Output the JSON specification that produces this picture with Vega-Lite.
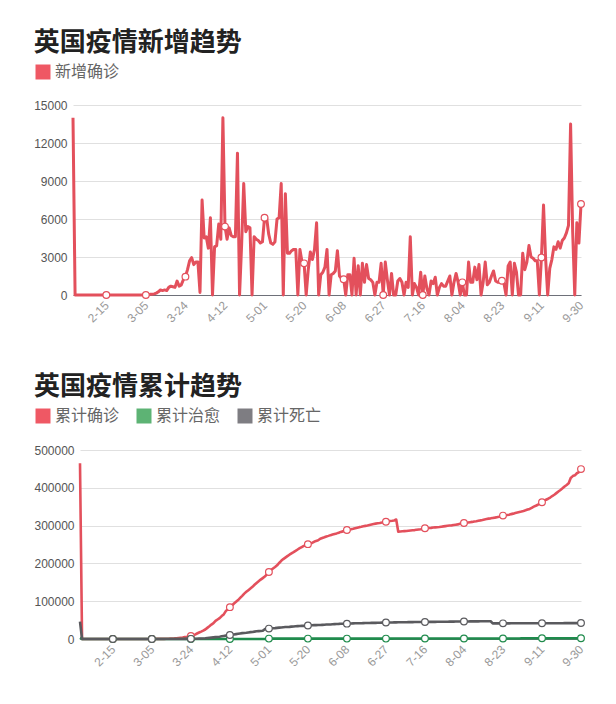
{
"$schema": "https://vega.github.io/schema/vega-lite/v6.json",
"background": "white",
"padding": {"left": 33, "top": 30, "right": 20, "bottom": 10},
"config": {
  "view": {"stroke": null},
  "font": "Noto Sans CJK SC",
  "title": {"fontSize": 26, "fontWeight": "bold", "color": "#222222", "anchor": "start", "frame": "bounds", "offset": 8, "font": "Noto Sans CJK SC"},
  "axisY": {"labelFont": "Liberation Sans", "labelFontSize": 12, "labelColor": "#555555", "grid": true, "gridColor": "#e0e0e0", "domain": false, "ticks": false, "labelPadding": 6, "labelOverlap": false, "labelBound": false, "labelFlush": false, "format": "d", "title": null, "tickCount": 20},
  "axisX": {"labelFont": "Liberation Sans", "labelFontSize": 12, "labelColor": "#999999", "grid": false, "domain": true, "domainColor": "#6e7079", "ticks": false, "labelAngle": -45, "labelAlign": "right", "labelBaseline": "middle", "labelPadding": 8, "labelFlush": false, "labelOverlap": false, "format": "%-m-%d", "title": null, "tickCount": 30},
  "legend": {"orient": "none", "direction": "horizontal", "title": null, "symbolType": "square", "symbolSize": 225, "symbolStrokeWidth": 0, "labelFontSize": 16, "labelColor": "#666666", "labelFont": "Noto Sans CJK SC", "labelOffset": 4, "columnPadding": 16, "padding": 0}
},
"datasets": {"uk": [
{"date":"2020-01-30","新增确诊":14000,"累计确诊":465000,"累计治愈":3000,"累计死亡":45800},
{"date":"2020-01-31","新增确诊":0,"累计确诊":2,"累计治愈":0,"累计死亡":0},
{"date":"2020-02-01","新增确诊":0,"累计确诊":2,"累计治愈":0,"累计死亡":0},
{"date":"2020-02-02","新增确诊":0,"累计确诊":2,"累计治愈":0,"累计死亡":0},
{"date":"2020-02-03","新增确诊":0,"累计确诊":2,"累计治愈":0,"累计死亡":0},
{"date":"2020-02-04","新增确诊":0,"累计确诊":2,"累计治愈":0,"累计死亡":0},
{"date":"2020-02-05","新增确诊":0,"累计确诊":2,"累计治愈":0,"累计死亡":0},
{"date":"2020-02-06","新增确诊":0,"累计确诊":3,"累计治愈":0,"累计死亡":0},
{"date":"2020-02-07","新增确诊":0,"累计确诊":3,"累计治愈":0,"累计死亡":0},
{"date":"2020-02-08","新增确诊":0,"累计确诊":3,"累计治愈":0,"累计死亡":0},
{"date":"2020-02-09","新增确诊":0,"累计确诊":3,"累计治愈":0,"累计死亡":0},
{"date":"2020-02-10","新增确诊":0,"累计确诊":8,"累计治愈":0,"累计死亡":0},
{"date":"2020-02-11","新增确诊":0,"累计确诊":8,"累计治愈":8,"累计死亡":0},
{"date":"2020-02-12","新增确诊":0,"累计确诊":9,"累计治愈":8,"累计死亡":0},
{"date":"2020-02-13","新增确诊":0,"累计确诊":9,"累计治愈":8,"累计死亡":0},
{"date":"2020-02-14","新增确诊":0,"累计确诊":9,"累计治愈":8,"累计死亡":0},
{"date":"2020-02-15","新增确诊":0,"累计确诊":9,"累计治愈":8,"累计死亡":0},
{"date":"2020-02-16","新增确诊":0,"累计确诊":9,"累计治愈":8,"累计死亡":0},
{"date":"2020-02-17","新增确诊":0,"累计确诊":9,"累计治愈":8,"累计死亡":0},
{"date":"2020-02-18","新增确诊":0,"累计确诊":9,"累计治愈":8,"累计死亡":0},
{"date":"2020-02-19","新增确诊":0,"累计确诊":9,"累计治愈":8,"累计死亡":0},
{"date":"2020-02-20","新增确诊":0,"累计确诊":9,"累计治愈":8,"累计死亡":0},
{"date":"2020-02-21","新增确诊":0,"累计确诊":9,"累计治愈":8,"累计死亡":0},
{"date":"2020-02-22","新增确诊":0,"累计确诊":9,"累计治愈":8,"累计死亡":0},
{"date":"2020-02-23","新增确诊":0,"累计确诊":9,"累计治愈":8,"累计死亡":0},
{"date":"2020-02-24","新增确诊":0,"累计确诊":13,"累计治愈":8,"累计死亡":0},
{"date":"2020-02-25","新增确诊":0,"累计确诊":13,"累计治愈":8,"累计死亡":0},
{"date":"2020-02-26","新增确诊":0,"累计确诊":13,"累计治愈":8,"累计死亡":0},
{"date":"2020-02-27","新增确诊":0,"累计确诊":15,"累计治愈":8,"累计死亡":0},
{"date":"2020-02-28","新增确诊":0,"累计确诊":20,"累计治愈":8,"累计死亡":0},
{"date":"2020-02-29","新增确诊":0,"累计确诊":23,"累计治愈":8,"累计死亡":0},
{"date":"2020-03-01","新增确诊":0,"累计确诊":36,"累计治愈":8,"累计死亡":0},
{"date":"2020-03-02","新增确诊":0,"累计确诊":40,"累计治愈":8,"累计死亡":0},
{"date":"2020-03-03","新增确诊":0,"累计确诊":51,"累计治愈":8,"累计死亡":0},
{"date":"2020-03-04","新增确诊":0,"累计确诊":85,"累计治愈":8,"累计死亡":0},
{"date":"2020-03-05","新增确诊":0,"累计确诊":115,"累计治愈":8,"累计死亡":1},
{"date":"2020-03-06","新增确诊":30,"累计确诊":164,"累计治愈":8,"累计死亡":2},
{"date":"2020-03-07","新增确诊":50,"累计确诊":209,"累计治愈":8,"累计死亡":2},
{"date":"2020-03-08","新增确诊":60,"累计确诊":278,"累计治愈":8,"累计死亡":3},
{"date":"2020-03-09","新增确诊":90,"累计确诊":321,"累计治愈":8,"累计死亡":4},
{"date":"2020-03-10","新增确诊":150,"累计确诊":383,"累计治愈":8,"累计死亡":6},
{"date":"2020-03-11","新增确诊":250,"累计确诊":460,"累计治愈":8,"累计死亡":8},
{"date":"2020-03-12","新增确诊":400,"累计确诊":594,"累计治愈":8,"累计死亡":8},
{"date":"2020-03-13","新增确诊":350,"累计确诊":798,"累计治愈":8,"累计死亡":10},
{"date":"2020-03-14","新增确诊":400,"累计确诊":1140,"累计治愈":8,"累计死亡":21},
{"date":"2020-03-15","新增确诊":350,"累计确诊":1372,"累计治愈":18,"累计死亡":35},
{"date":"2020-03-16","新增确诊":600,"累计确诊":1543,"累计治愈":18,"累计死亡":55},
{"date":"2020-03-17","新增确诊":700,"累计确诊":1950,"累计治愈":18,"累计死亡":71},
{"date":"2020-03-18","新增确诊":650,"累计确诊":2626,"累计治愈":18,"累计死亡":104},
{"date":"2020-03-19","新增确诊":600,"累计确诊":3269,"累计治愈":18,"累计死亡":144},
{"date":"2020-03-20","新增确诊":1100,"累计确诊":3983,"累计治愈":18,"累计死亡":177},
{"date":"2020-03-21","新增确诊":700,"累计确诊":5018,"累计治愈":18,"累计死亡":233},
{"date":"2020-03-22","新增确诊":800,"累计确诊":5683,"累计治愈":18,"累计死亡":281},
{"date":"2020-03-23","新增确诊":1200,"累计确诊":6650,"累计治愈":135,"累计死亡":335},
{"date":"2020-03-24","新增确诊":1450,"累计确诊":8077,"累计治愈":135,"累计死亡":422},
{"date":"2020-03-25","新增确诊":2000,"累计确诊":9529,"累计治愈":135,"累计死亡":465},
{"date":"2020-03-26","新增确诊":2700,"累计确诊":11658,"累计治愈":135,"累计死亡":578},
{"date":"2020-03-27","新增确诊":2950,"累计确诊":14543,"累计治愈":135,"累计死亡":759},
{"date":"2020-03-28","新增确诊":2400,"累计确诊":17089,"累计治愈":135,"累计死亡":1019},
{"date":"2020-03-29","新增确诊":2600,"累计确诊":19522,"累计治愈":135,"累计死亡":1228},
{"date":"2020-03-30","新增确诊":2600,"累计确诊":22141,"累计治愈":135,"累计死亡":1408},
{"date":"2020-03-31","新增确诊":200,"累计确诊":25150,"累计治愈":135,"累计死亡":1789},
{"date":"2020-04-01","新增确诊":7500,"累计确诊":29474,"累计治愈":135,"累计死亡":2352},
{"date":"2020-04-02","新增确诊":4500,"累计确诊":33718,"累计治愈":135,"累计死亡":2921},
{"date":"2020-04-03","新增确诊":4600,"累计确诊":38168,"累计治愈":135,"累计死亡":3605},
{"date":"2020-04-04","新增确诊":3700,"累计确诊":41903,"累计治愈":135,"累计死亡":4313},
{"date":"2020-04-05","新增确诊":6100,"累计确诊":47806,"累计治愈":135,"累计死亡":4934},
{"date":"2020-04-06","新增确诊":0,"累计确诊":51608,"累计治愈":135,"累计死亡":5373},
{"date":"2020-04-07","新增确诊":3800,"累计确诊":55242,"累计治愈":135,"累计死亡":6159},
{"date":"2020-04-08","新增确诊":3900,"累计确诊":60733,"累计治愈":135,"累计死亡":7097},
{"date":"2020-04-09","新增确诊":5600,"累计确诊":65077,"累计治愈":135,"累计死亡":7978},
{"date":"2020-04-10","新增确诊":4400,"累计确诊":73758,"累计治愈":135,"累计死亡":8958},
{"date":"2020-04-11","新增确诊":14000,"累计确诊":78991,"累计治愈":135,"累计死亡":9875},
{"date":"2020-04-12","新增确诊":5400,"累计确诊":84279,"累计治愈":135,"累计死亡":10612},
{"date":"2020-04-13","新增确诊":4400,"累计确诊":88621,"累计治愈":135,"累计死亡":11329},
{"date":"2020-04-14","新增确诊":5300,"累计确诊":93873,"累计治愈":135,"累计死亡":12107},
{"date":"2020-04-15","新增确诊":4700,"累计确诊":98476,"累计治愈":135,"累计死亡":12868},
{"date":"2020-04-16","新增确诊":4600,"累计确诊":103093,"累计治愈":135,"累计死亡":13729},
{"date":"2020-04-17","新增确诊":4600,"累计确诊":108692,"累计治愈":135,"累计死亡":14576},
{"date":"2020-04-18","新增确诊":11200,"累计确诊":114217,"累计治愈":135,"累计死亡":15464},
{"date":"2020-04-19","新增确诊":0,"累计确诊":120067,"累计治愈":135,"累计死亡":16060},
{"date":"2020-04-20","新增确诊":4000,"累计确诊":124743,"累计治愈":135,"累计死亡":16509},
{"date":"2020-04-21","新增确诊":8800,"累计确诊":129044,"累计治愈":135,"累计死亡":17337},
{"date":"2020-04-22","新增确诊":5000,"累计确诊":133495,"累计治愈":135,"累计死亡":18100},
{"date":"2020-04-23","新增确诊":5400,"累计确诊":138078,"累计治愈":135,"累计死亡":18738},
{"date":"2020-04-24","新增确诊":5300,"累计确诊":143464,"累计治愈":135,"累计死亡":19506},
{"date":"2020-04-25","新增确诊":0,"累计确诊":148377,"累计治愈":135,"累计死亡":20319},
{"date":"2020-04-26","新增确诊":4600,"累计确诊":152840,"累计治愈":135,"累计死亡":20732},
{"date":"2020-04-27","新增确诊":4400,"累计确诊":157149,"累计治愈":135,"累计死亡":21092},
{"date":"2020-04-28","新增确诊":4300,"累计确诊":161145,"累计治愈":135,"累计死亡":21678},
{"date":"2020-04-29","新增确诊":4100,"累计确诊":165221,"累计治愈":135,"累计死亡":26097},
{"date":"2020-04-30","新增确诊":4200,"累计确诊":171253,"累计治愈":135,"累计死亡":26711},
{"date":"2020-05-01","新增确诊":6100,"累计确诊":177454,"累计治愈":1000,"累计死亡":27510},
{"date":"2020-05-02","新增确诊":6100,"累计确诊":182260,"累计治愈":1000,"累计死亡":28131},
{"date":"2020-05-03","新增确诊":4800,"累计确诊":186599,"累计治愈":1000,"累计死亡":28446},
{"date":"2020-05-04","新增确诊":4100,"累计确诊":190584,"累计治愈":1000,"累计死亡":28734},
{"date":"2020-05-05","新增确诊":4000,"累计确诊":194990,"累计治愈":1000,"累计死亡":29427},
{"date":"2020-05-06","新增确诊":4200,"累计确诊":201101,"累计治愈":1000,"累计死亡":30076},
{"date":"2020-05-07","新增确诊":6000,"累计确诊":206715,"累计治愈":1000,"累计死亡":30615},
{"date":"2020-05-08","新增确诊":6100,"累计确诊":211364,"累计治愈":1000,"累计死亡":31241},
{"date":"2020-05-09","新增确诊":8800,"累计确诊":215260,"累计治愈":1000,"累计死亡":31587},
{"date":"2020-05-10","新增确诊":0,"累计确诊":219183,"累计治愈":1000,"累计死亡":31855},
{"date":"2020-05-11","新增确诊":8000,"累计确诊":223060,"累计治愈":1000,"累计死亡":32065},
{"date":"2020-05-12","新增确诊":3300,"累计确诊":226463,"累计治愈":1000,"累计死亡":32692},
{"date":"2020-05-13","新增确诊":3300,"累计确诊":229705,"累计治愈":1000,"累计死亡":33186},
{"date":"2020-05-14","新增确诊":3500,"累计确诊":233151,"累计治愈":1000,"累计死亡":33614},
{"date":"2020-05-15","新增确诊":3600,"累计确诊":236711,"累计治愈":1000,"累计死亡":33998},
{"date":"2020-05-16","新增确诊":3600,"累计确诊":240161,"累计治愈":1000,"累计死亡":34466},
{"date":"2020-05-17","新增确诊":0,"累计确诊":243303,"累计治愈":1000,"累计死亡":34636},
{"date":"2020-05-18","新增确诊":3600,"累计确诊":246406,"累计治愈":1000,"累计死亡":34796},
{"date":"2020-05-19","新增确诊":2600,"累计确诊":248293,"累计治愈":1000,"累计死亡":35341},
{"date":"2020-05-20","新增确诊":2500,"累计确诊":250908,"累计治愈":1000,"累计死亡":35704},
{"date":"2020-05-21","新增确诊":0,"累计确诊":252500,"累计治愈":1000,"累计死亡":36042},
{"date":"2020-05-22","新增确诊":2000,"累计确诊":254195,"累计治愈":1000,"累计死亡":36393},
{"date":"2020-05-23","新增确诊":3400,"累计确诊":257154,"累计治愈":1000,"累计死亡":36675},
{"date":"2020-05-24","新增确诊":2800,"累计确诊":259559,"累计治愈":1000,"累计死亡":36793},
{"date":"2020-05-25","新增确诊":3600,"累计确诊":261184,"累计治愈":1000,"累计死亡":36914},
{"date":"2020-05-26","新增确诊":5700,"累计确诊":265227,"累计治愈":1000,"累计死亡":37048},
{"date":"2020-05-27","新增确诊":0,"累计确诊":267240,"累计治愈":1000,"累计死亡":37460},
{"date":"2020-05-28","新增确诊":1600,"累计确诊":269127,"累计治愈":1000,"累计死亡":37837},
{"date":"2020-05-29","新增确诊":1800,"累计确诊":271222,"累计治愈":1000,"累计死亡":38161},
{"date":"2020-05-30","新增确诊":2200,"累计确诊":272826,"累计治愈":1000,"累计死亡":38376},
{"date":"2020-05-31","新增确诊":3600,"累计确诊":274762,"累计治愈":1000,"累计死亡":38489},
{"date":"2020-06-01","新增确诊":0,"累计确诊":276332,"累计治愈":1000,"累计死亡":39045},
{"date":"2020-06-02","新增确诊":1600,"累计确诊":277985,"累计治愈":1000,"累计死亡":39369},
{"date":"2020-06-03","新增确诊":1700,"累计确诊":279392,"累计治愈":1000,"累计死亡":39728},
{"date":"2020-06-04","新增确诊":1900,"累计确诊":281270,"累计治愈":1000,"累计死亡":39904},
{"date":"2020-06-05","新增确诊":3500,"累计确诊":283326,"累计治愈":1000,"累计死亡":40261},
{"date":"2020-06-06","新增确诊":1500,"累计确诊":284734,"累计治愈":1000,"累计死亡":40465},
{"date":"2020-06-07","新增确诊":1300,"累计确诊":286194,"累计治愈":1000,"累计死亡":40542},
{"date":"2020-06-08","新增确诊":1250,"累计确诊":288500,"累计治愈":1000,"累计死亡":40597},
{"date":"2020-06-09","新增确诊":0,"累计确诊":289140,"累计治愈":1000,"累计死亡":40883},
{"date":"2020-06-10","新增确诊":1600,"累计确诊":290143,"累计治愈":1000,"累计死亡":41128},
{"date":"2020-06-11","新增确诊":1600,"累计确诊":291409,"累计治愈":1000,"累计死亡":41279},
{"date":"2020-06-12","新增确诊":0,"累计确诊":292950,"累计治愈":1000,"累计死亡":41481},
{"date":"2020-06-13","新增确诊":2900,"累计确诊":294375,"累计治愈":1000,"累计死亡":41662},
{"date":"2020-06-14","新增确诊":0,"累计确诊":295889,"累计治愈":1000,"累计死亡":41698},
{"date":"2020-06-15","新增确诊":2300,"累计确诊":296857,"累计治愈":1000,"累计死亡":41736},
{"date":"2020-06-16","新增确诊":0,"累计确诊":298136,"累计治愈":1000,"累计死亡":41969},
{"date":"2020-06-17","新增确诊":2500,"累计确诊":299251,"累计治愈":1000,"累计死亡":42153},
{"date":"2020-06-18","新增确诊":1000,"累计确诊":300469,"累计治愈":1000,"累计死亡":42288},
{"date":"2020-06-19","新增确诊":2400,"累计确诊":301815,"累计治愈":1000,"累计死亡":42461},
{"date":"2020-06-20","新增确诊":1300,"累计确诊":303110,"累计治愈":1000,"累计死亡":42589},
{"date":"2020-06-21","新增确诊":1200,"累计确诊":304331,"累计治愈":1000,"累计死亡":42632},
{"date":"2020-06-22","新增确诊":1000,"累计确诊":305289,"累计治愈":1000,"累计死亡":42647},
{"date":"2020-06-23","新增确诊":0,"累计确诊":306210,"累计治愈":1000,"累计死亡":42927},
{"date":"2020-06-24","新增确诊":1000,"累计确诊":306862,"累计治愈":1000,"累计死亡":43081},
{"date":"2020-06-25","新增确诊":1000,"累计确诊":307980,"累计治愈":1000,"累计死亡":43230},
{"date":"2020-06-26","新增确诊":2500,"累计确诊":309360,"累计治愈":1000,"累计死亡":43414},
{"date":"2020-06-27","新增确诊":0,"累计确诊":310250,"累计治愈":1000,"累计死亡":43514},
{"date":"2020-06-28","新增确诊":2600,"累计确诊":311151,"累计治愈":1000,"累计死亡":43550},
{"date":"2020-06-29","新增确诊":1200,"累计确诊":311965,"累计治愈":1000,"累计死亡":43575},
{"date":"2020-06-30","新增确诊":0,"累计确诊":312654,"累计治愈":1000,"累计死亡":43730},
{"date":"2020-07-01","新增确诊":1700,"累计确诊":313483,"累计治愈":1500,"累计死亡":43906},
{"date":"2020-07-02","新增确诊":0,"累计确诊":316000,"累计治愈":1500,"累计死亡":43995},
{"date":"2020-07-03","新增确诊":0,"累计确诊":283757,"累计治愈":1500,"累计死亡":44131},
{"date":"2020-07-04","新增确诊":1100,"累计确诊":284276,"累计治愈":1500,"累计死亡":44198},
{"date":"2020-07-05","新增确诊":1300,"累计确诊":284900,"累计治愈":1500,"累计死亡":44220},
{"date":"2020-07-06","新增确诊":1000,"累计确诊":285416,"累计治愈":1500,"累计死亡":44236},
{"date":"2020-07-07","新增确诊":0,"累计确诊":285768,"累计治愈":1500,"累计死亡":44391},
{"date":"2020-07-08","新增确诊":1000,"累计确诊":286349,"累计治愈":1500,"累计死亡":44517},
{"date":"2020-07-09","新增确诊":600,"累计确诊":286979,"累计治愈":1500,"累计死亡":44602},
{"date":"2020-07-10","新增确诊":4600,"累计确诊":287621,"累计治愈":1500,"累计死亡":44650},
{"date":"2020-07-11","新增确诊":0,"累计确诊":288133,"累计治愈":1500,"累计死亡":44798},
{"date":"2020-07-12","新增确诊":900,"累计确诊":288953,"累计治愈":1500,"累计死亡":44819},
{"date":"2020-07-13","新增确诊":600,"累计确诊":289603,"累计治愈":1500,"累计死亡":44830},
{"date":"2020-07-14","新增确诊":0,"累计确诊":290133,"累计治愈":1500,"累计死亡":44968},
{"date":"2020-07-15","新增确诊":1800,"累计确诊":291373,"累计治愈":1500,"累计死亡":45053},
{"date":"2020-07-16","新增确诊":0,"累计确诊":292900,"累计治愈":1500,"累计死亡":45119},
{"date":"2020-07-17","新增确诊":1500,"累计确诊":293239,"累计治愈":1500,"累计死亡":45233},
{"date":"2020-07-18","新增确诊":500,"累计确诊":293600,"累计治愈":1500,"累计死亡":45273},
{"date":"2020-07-19","新增确诊":0,"累计确诊":294066,"累计治愈":1500,"累计死亡":45312},
{"date":"2020-07-20","新增确诊":1100,"累计确诊":294792,"累计治愈":1500,"累计死亡":45318},
{"date":"2020-07-21","新增确诊":900,"累计确诊":295372,"累计治愈":1500,"累计死亡":45422},
{"date":"2020-07-22","新增确诊":1400,"累计确诊":295817,"累计治愈":1500,"累计死亡":45501},
{"date":"2020-07-23","新增确诊":0,"累计确诊":296377,"累计治愈":1500,"累计死亡":45554},
{"date":"2020-07-24","新增确诊":600,"累计确诊":297146,"累计治愈":1500,"累计死亡":45677},
{"date":"2020-07-25","新增确诊":900,"累计确诊":297914,"累计治愈":1500,"累计死亡":45738},
{"date":"2020-07-26","新增确诊":700,"累计确诊":298681,"累计治愈":1500,"累计死亡":45752},
{"date":"2020-07-27","新增确诊":700,"累计确诊":299426,"累计治愈":1500,"累计死亡":45759},
{"date":"2020-07-28","新增确诊":1100,"累计确诊":300111,"累计治愈":1500,"累计死亡":45878},
{"date":"2020-07-29","新增确诊":1500,"累计确诊":300692,"累计治愈":1500,"累计死亡":45961},
{"date":"2020-07-30","新增确诊":0,"累计确诊":301455,"累计治愈":1500,"累计死亡":46084},
{"date":"2020-07-31","新增确诊":1000,"累计确诊":302301,"累计治愈":1500,"累计死亡":46119},
{"date":"2020-08-01","新增确诊":1700,"累计确诊":303181,"累计治愈":1500,"累计死亡":46193},
{"date":"2020-08-02","新增确诊":1000,"累计确诊":304695,"累计治愈":1500,"累计死亡":46201},
{"date":"2020-08-03","新增确诊":0,"累计确诊":305623,"累计治愈":1500,"累计死亡":46210},
{"date":"2020-08-04","新增确诊":1000,"累计确诊":306900,"累计治愈":1500,"累计死亡":46299},
{"date":"2020-08-05","新增确诊":0,"累计确诊":307500,"累计治愈":1500,"累计死亡":46364},
{"date":"2020-08-06","新增确诊":0,"累计确诊":308134,"累计治愈":1500,"累计死亡":46413},
{"date":"2020-08-07","新增确诊":2600,"累计确诊":309005,"累计治愈":1500,"累计死亡":46511},
{"date":"2020-08-08","新增确诊":1000,"累计确诊":309763,"累计治愈":1500,"累计死亡":46566},
{"date":"2020-08-09","新增确诊":1000,"累计确诊":310825,"累计治愈":1500,"累计死亡":46574},
{"date":"2020-08-10","新增确诊":2200,"累计确诊":311641,"累计治愈":1500,"累计死亡":46600},
{"date":"2020-08-11","新增确诊":1200,"累计确诊":312789,"累计治愈":1500,"累计死亡":46706},
{"date":"2020-08-12","新增确诊":2400,"累计确诊":313798,"累计治愈":1500,"累计死亡":46791},
{"date":"2020-08-13","新增确诊":0,"累计确诊":314992,"累计治愈":1500,"累计死亡":46830},
{"date":"2020-08-14","新增确诊":1000,"累计确诊":316367,"累计治愈":1500,"累计死亡":46860},
{"date":"2020-08-15","新增确诊":2600,"累计确诊":317379,"累计治愈":1500,"累计死亡":46880},
{"date":"2020-08-16","新增确诊":800,"累计确诊":318484,"累计治愈":1500,"累计死亡":46900},
{"date":"2020-08-17","新增确诊":1000,"累计确诊":319197,"累计治愈":1500,"累计死亡":46950},
{"date":"2020-08-18","新增确诊":1500,"累计确诊":320286,"累计治愈":1500,"累计死亡":41369},
{"date":"2020-08-19","新增确诊":1900,"累计确诊":321098,"累计治愈":1500,"累计死亡":41381},
{"date":"2020-08-20","新增确诊":1100,"累计确诊":322280,"累计治愈":1500,"累计死亡":41397},
{"date":"2020-08-21","新增确诊":1000,"累计确诊":323313,"累计治愈":1500,"累计死亡":41403},
{"date":"2020-08-22","新增确诊":1000,"累计确诊":324601,"累计治愈":1500,"累计死亡":41405},
{"date":"2020-08-23","新增确诊":1130,"累计确诊":326500,"累计治愈":1500,"累计死亡":41423},
{"date":"2020-08-24","新增确诊":900,"累计确诊":327200,"累计治愈":1500,"累计死亡":41429},
{"date":"2020-08-25","新增确诊":0,"累计确诊":327900,"累计治愈":1500,"累计死亡":41449},
{"date":"2020-08-26","新增确诊":2300,"累计确诊":328846,"累计治愈":1500,"累计死亡":41465},
{"date":"2020-08-27","新增确诊":2600,"累计确诊":330368,"累计治愈":1500,"累计死亡":41477},
{"date":"2020-08-28","新增确诊":0,"累计确诊":331644,"累计治愈":1500,"累计死亡":41486},
{"date":"2020-08-29","新增确诊":2500,"累计确诊":333140,"累计治愈":1500,"累计死亡":41498},
{"date":"2020-08-30","新增确诊":1800,"累计确诊":334467,"累计治愈":1500,"累计死亡":41499},
{"date":"2020-08-31","新增确诊":0,"累计确诊":335873,"累计治愈":1500,"累计死亡":41501},
{"date":"2020-09-01","新增确诊":0,"累计确诊":337168,"累计治愈":2000,"累计死亡":41504},
{"date":"2020-09-02","新增确诊":3300,"累计确诊":338676,"累计治愈":2000,"累计死亡":41514},
{"date":"2020-09-03","新增确诊":2000,"累计确诊":340411,"累计治愈":2000,"累计死亡":41527},
{"date":"2020-09-04","新增确诊":2600,"累计确诊":342351,"累计治愈":2000,"累计死亡":41537},
{"date":"2020-09-05","新增确诊":3900,"累计确诊":344164,"累计治愈":2000,"累计死亡":41549},
{"date":"2020-09-06","新增确诊":3000,"累计确诊":347152,"累计治愈":2000,"累计死亡":41551},
{"date":"2020-09-07","新增确诊":2900,"累计确诊":350100,"累计治愈":2000,"累计死亡":41554},
{"date":"2020-09-08","新增确诊":2700,"累计确诊":352560,"累计治愈":2000,"累计死亡":41586},
{"date":"2020-09-09","新增确诊":2700,"累计确诊":355219,"累计治愈":2000,"累计死亡":41594},
{"date":"2020-09-10","新增确诊":0,"累计确诊":358138,"累计治愈":2000,"累计死亡":41608},
{"date":"2020-09-11","新增确诊":2970,"累计确诊":361677,"累计治愈":2000,"累计死亡":41623},
{"date":"2020-09-12","新增确诊":7100,"累计确诊":365174,"累计治愈":2000,"累计死亡":41632},
{"date":"2020-09-13","新增确诊":2900,"累计确诊":368504,"累计治愈":2000,"累计死亡":41637},
{"date":"2020-09-14","新增确诊":0,"累计确诊":371125,"累计治愈":2000,"累计死亡":41664},
{"date":"2020-09-15","新增确诊":2100,"累计确诊":374228,"累计治愈":2000,"累计死亡":41684},
{"date":"2020-09-16","新增确诊":2800,"累计确诊":378219,"累计治愈":2000,"累计死亡":41705},
{"date":"2020-09-17","新增确诊":3800,"累计确诊":381614,"累计治愈":2000,"累计死亡":41726},
{"date":"2020-09-18","新增确诊":3600,"累计确诊":385936,"累计治愈":2000,"累计死亡":41759},
{"date":"2020-09-19","新增确诊":4200,"累计确诊":390358,"累计治愈":2000,"累计死亡":41788},
{"date":"2020-09-20","新增确诊":3700,"累计确诊":394257,"累计治愈":2000,"累计死亡":41821},
{"date":"2020-09-21","新增确诊":4300,"累计确诊":398625,"累计治愈":2000,"累计死亡":41862},
{"date":"2020-09-22","新增确诊":4500,"累计确诊":403551,"累计治愈":2000,"累计死亡":41877},
{"date":"2020-09-23","新增确诊":4900,"累计确诊":407500,"累计治愈":2000,"累计死亡":41902},
{"date":"2020-09-24","新增确诊":5500,"累计确诊":412000,"累计治愈":2000,"累计死亡":41936},
{"date":"2020-09-25","新增确诊":13500,"累计确诊":426000,"累计治愈":2000,"累计死亡":41971},
{"date":"2020-09-26","新增确诊":5000,"累计确诊":431000,"累计治愈":2000,"累计死亡":42001},
{"date":"2020-09-27","新增确诊":0,"累计确诊":433000,"累计治愈":2000,"累计死亡":42018},
{"date":"2020-09-28","新增确诊":5700,"累计确诊":438500,"累计治愈":2000,"累计死亡":42072},
{"date":"2020-09-29","新增确诊":4100,"累计确诊":441500,"累计治愈":2000,"累计死亡":42143},
{"date":"2020-09-30","新增确诊":7180,"累计确诊":449500,"累计治愈":2000,"累计死亡":42202}
]},
"resolve": {"scale": {"color": "independent", "stroke": "independent", "y": "independent", "x": "independent"}, "legend": {"color": "independent"}},
"columns": 1,
"spacing": 49,
"concat": [
  {
    "width": 508,
    "height": 190,
    "title": {"text": "英国疫情新增趋势"},
    "data": {"name": "uk"},
    "layer": [
      {
        "mark": {"type": "line", "strokeWidth": 3, "strokeJoin": "round"},
        "encoding": {
          "x": {"field": "date", "type": "temporal", "scale": {"type": "utc", "nice": false, "domain": [{"year": 2020, "month": 1, "date": 30, "utc": true}, {"year": 2020, "month": 9, "date": 30, "utc": true}]},
                "axis": {"values": [{"year":2020,"month":2,"date":15,"utc":true},{"year":2020,"month":3,"date":5,"utc":true},{"year":2020,"month":3,"date":24,"utc":true},{"year":2020,"month":4,"date":12,"utc":true},{"year":2020,"month":5,"date":1,"utc":true},{"year":2020,"month":5,"date":20,"utc":true},{"year":2020,"month":6,"date":8,"utc":true},{"year":2020,"month":6,"date":27,"utc":true},{"year":2020,"month":7,"date":16,"utc":true},{"year":2020,"month":8,"date":4,"utc":true},{"year":2020,"month":8,"date":23,"utc":true},{"year":2020,"month":9,"date":11,"utc":true},{"year":2020,"month":9,"date":30,"utc":true}]}},
          "y": {"field": "新增确诊", "type": "quantitative", "scale": {"domain": [0, 15000], "nice": false}, "axis": {"values": [0, 3000, 6000, 9000, 12000, 15000]}},
          "color": {"datum": "新增确诊", "type": "nominal", "scale": {"domain": ["新增确诊"], "range": ["#e3505c"]},
                    "legend": {"legendX": -38, "legendY": -41, "encode": {"symbols": {"update": {"fill": {"value": "#ef5864"}, "stroke": {"value": "transparent"}, "opacity": {"value": 1}}}}}}
        }
      },
      {
        "transform": [{"filter": "indexof(['2-15','3-5','3-24','4-12','5-1','5-20','6-8','6-27','7-16','8-4','8-23','9-11','9-30'], (utcmonth(datum.date)+1) + '-' + utcdate(datum.date)) >= 0"}],
        "mark": {"type": "point", "filled": true, "fill": "white", "stroke": "#e3505c", "strokeWidth": 1.2, "size": 45, "opacity": 1},
        "encoding": {
          "x": {"field": "date", "type": "temporal"},
          "y": {"field": "新增确诊", "type": "quantitative"}
        }
      }
    ]
  },
  {
    "width": 508,
    "height": 189,
    "title": {"text": "英国疫情累计趋势"},
    "data": {"name": "uk"},
    "transform": [{"fold": ["累计确诊", "累计治愈", "累计死亡"], "as": ["series", "value"]}],
    "layer": [
      {
        "mark": {"type": "line", "strokeWidth": 2.6, "strokeJoin": "round"},
        "encoding": {
          "x": {"field": "date", "type": "temporal", "scale": {"type": "utc", "nice": false, "range": [7, 508], "domain": [{"year": 2020, "month": 1, "date": 30, "utc": true}, {"year": 2020, "month": 9, "date": 30, "utc": true}]},
                "axis": {"values": [{"year":2020,"month":2,"date":15,"utc":true},{"year":2020,"month":3,"date":5,"utc":true},{"year":2020,"month":3,"date":24,"utc":true},{"year":2020,"month":4,"date":12,"utc":true},{"year":2020,"month":5,"date":1,"utc":true},{"year":2020,"month":5,"date":20,"utc":true},{"year":2020,"month":6,"date":8,"utc":true},{"year":2020,"month":6,"date":27,"utc":true},{"year":2020,"month":7,"date":16,"utc":true},{"year":2020,"month":8,"date":4,"utc":true},{"year":2020,"month":8,"date":23,"utc":true},{"year":2020,"month":9,"date":11,"utc":true},{"year":2020,"month":9,"date":30,"utc":true}]}},
          "y": {"field": "value", "type": "quantitative", "scale": {"domain": [0, 500000], "nice": false}, "axis": {"offset": -7, "values": [0, 100000, 200000, 300000, 400000, 500000]}},
          "color": {"field": "series", "type": "nominal", "sort": null, "scale": {"domain": ["累计确诊", "累计治愈", "累计死亡"], "range": ["#e3505c", "#1f8b4c", "#5a5a5e"]},
                    "legend": {"legendX": -38, "legendY": -42, "encode": {"symbols": {"update": {"fill": {"signal": "datum.value === '累计确诊' ? '#ef5864' : datum.value === '累计治愈' ? '#5db374' : '#7e7d82'"}, "stroke": {"value": "transparent"}, "opacity": {"value": 1}}}}}}
        }
      },
      {
        "transform": [{"filter": "indexof(['2-15','3-5','3-24','4-12','5-1','5-20','6-8','6-27','7-16','8-4','8-23','9-11','9-30'], (utcmonth(datum.date)+1) + '-' + utcdate(datum.date)) >= 0"}],
        "mark": {"type": "point", "filled": true, "fill": "white", "strokeWidth": 1.2, "size": 45, "opacity": 1},
        "encoding": {
          "x": {"field": "date", "type": "temporal"},
          "y": {"field": "value", "type": "quantitative"},
          "stroke": {"field": "series", "type": "nominal", "scale": {"domain": ["累计确诊", "累计治愈", "累计死亡"], "range": ["#e3505c", "#1f8b4c", "#5a5a5e"]}, "legend": null}
        }
      }
    ]
  }
]
}
